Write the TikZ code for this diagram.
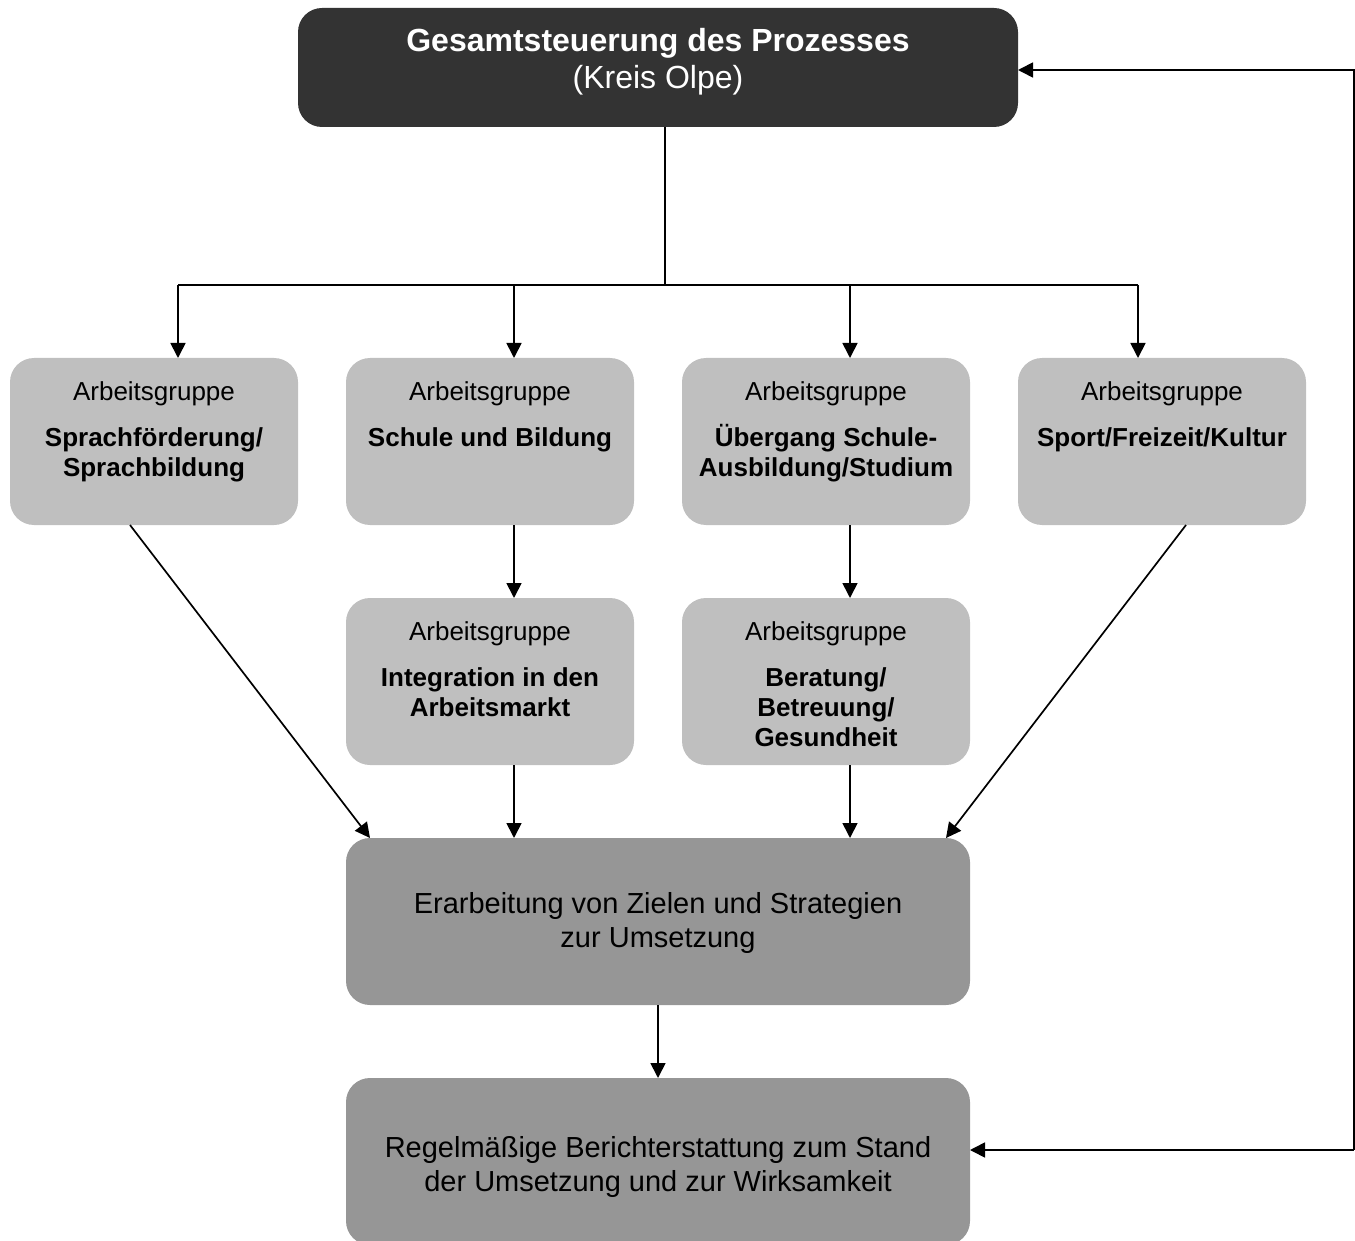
\documentclass[tikz,border=0pt]{standalone}
\usepackage{fontspec}
\setmainfont{Liberation Sans}
\usetikzlibrary{arrows.meta,calc}
\definecolor{topc}{HTML}{333333}
\definecolor{lightc}{HTML}{BFBFBF}
\definecolor{midc}{HTML}{969696}
\begin{document}
\begin{tikzpicture}[x=1pt,y=-1pt,
  box/.style={draw=none, rounded corners=24pt, minimum width=288pt, minimum height=167pt, inner sep=0pt, outer sep=0pt},
  agbox/.style={box, fill=lightc},
  widebox/.style={box, fill=midc, minimum width=624pt},
  topbox/.style={box, fill=topc, minimum width=720pt, minimum height=119pt},
  ln/.style={line width=1.7pt, black},
  arr/.style={ln, -{Triangle[length=15pt,width=15pt]}},
  tx/.style={anchor=base, inner sep=0pt, font=\fontsize{26}{30}\selectfont},
  txb/.style={anchor=base, inner sep=0pt, font=\fontsize{26}{30}\selectfont\bfseries},
  txm/.style={anchor=base, inner sep=0pt, font=\fontsize{29}{34}\selectfont},
  txt/.style={anchor=base, inner sep=0pt, text=white, font=\fontsize{32}{38}\selectfont}
]
\useasboundingbox (0,0) rectangle (1355,1241);
% boxes
\node[topbox] (g) at (658,67.5) {};
\node[agbox] (a1) at (154,441.5) {};
\node[agbox] (a2) at (490,441.5) {};
\node[agbox] (a3) at (826,441.5) {};
\node[agbox] (a4) at (1162,441.5) {};
\node[agbox] (b1) at (490,681.5) {};
\node[agbox] (b2) at (826,681.5) {};
\node[widebox] (e) at (658,921.5) {};
\node[widebox] (r) at (658,1161.5) {};
% texts
\node[txt, font=\fontsize{32}{38}\selectfont\bfseries] (gt1) at (658,52) {Gesamtsteuerung des Prozesses};
\node[txt] (gt2) at (658,89) {(Kreis Olpe)};
\node[tx] (a1t) at (154,400) {Arbeitsgruppe};
\node[txb] (a1l1) at (154,446) {Sprachförderung/};
\node[txb] (a1l2) at (154,476) {Sprachbildung};
\node[tx] (a2t) at (490,400) {Arbeitsgruppe};
\node[txb] (a2l1) at (490,446) {Schule und Bildung};
\node[tx] (a3t) at (826,400) {Arbeitsgruppe};
\node[txb] (a3l1) at (826,446) {Übergang Schule-};
\node[txb] (a3l2) at (826,476) {Ausbildung/Studium};
\node[tx] (a4t) at (1162,400) {Arbeitsgruppe};
\node[txb] (a4l1) at (1162,446) {Sport/Freizeit/Kultur};
\node[tx] (b1t) at (490,640) {Arbeitsgruppe};
\node[txb] (b1l1) at (490,686) {Integration in den};
\node[txb] (b1l2) at (490,716) {Arbeitsmarkt};
\node[tx] (b2t) at (826,640) {Arbeitsgruppe};
\node[txb] (b2l1) at (826,686) {Beratung/};
\node[txb] (b2l2) at (826,716) {Betreuung/};
\node[txb] (b2l3) at (826,746) {Gesundheit};
\node[txm] (et1) at (658,913) {Erarbeitung von Zielen und Strategien};
\node[txm] (et2) at (658,947) {zur Umsetzung};
\node[txm] (rt1) at (658,1157) {Regelmäßige Berichterstattung zum Stand};
\node[txm] (rt2) at (658,1191) {der Umsetzung und zur Wirksamkeit};
% bus
\coordinate (j) at (665,285);
\coordinate (s1) at (178,285);
\coordinate (s2) at (514,285);
\coordinate (s3) at (850,285);
\coordinate (s4) at (1138,285);
\draw[ln] (g.south -| j) -- (j);
\draw[ln] (s1) -- (s4);
\draw[arr] (s1) -- (s1 |- a1.north);
\draw[arr] (s2) -- (s2 |- a2.north);
\draw[arr] (s3) -- (s3 |- a3.north);
\draw[arr] (s4) -- (s4 |- a4.north);
% row1 -> row2
\draw[arr] (s2 |- a2.south) -- (s2 |- b1.north);
\draw[arr] (s3 |- a3.south) -- (s3 |- b2.north);
% row2 -> e
\draw[arr] (s2 |- b1.south) -- (s2 |- e.north);
\draw[arr] (s3 |- b2.south) -- (s3 |- e.north);
% diagonals
\draw[arr] ($(a1.south)+(-24,0)$) -- ($(e.north west)+(24,0)$);
\draw[arr] ($(a4.south)+(24,0)$) -- ($(e.north east)+(-24,0)$);
% e -> r
\draw[arr] (e.south) -- (r.north);
% feedback
\coordinate (f1) at (1354,1150);
\coordinate (f2) at (1354,70);
\draw[arr] (f1) -- (f1 -| r.east);
\draw[arr] (f1) -- (f2) -- (f2 -| g.east);
\end{tikzpicture}
\end{document}
